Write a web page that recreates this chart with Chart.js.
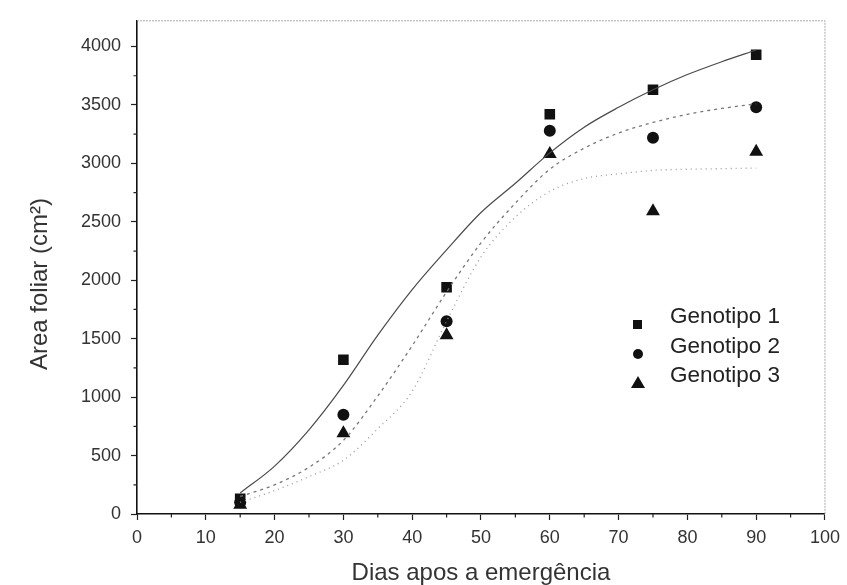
<!DOCTYPE html>
<html>
<head>
<meta charset="utf-8">
<script src="https://cdn.jsdelivr.net/npm/chart.js@4/dist/chart.umd.min.js"></script>
<style>
  body { margin: 0; background: #fff; }
  #wrap { position: relative; width: 847px; height: 585px; }
  #legend { position: absolute; left: 628px; top: 301px; font-family: "Liberation Sans", Arial, sans-serif; font-size: 22.5px; color: #222; }
  #legend div { height: 29.5px; line-height: 29.5px; white-space: nowrap; }
  #legend .mk { display: inline-block; width: 20px; height: 20px; vertical-align: middle; margin-right: 22px; }
</style>
</head>
<body>
<div id="wrap">
  <canvas id="chart" width="847" height="585"></canvas>
  <div id="legend"></div>
</div>
<script>
// measured points
const days = [15, 30, 45, 60, 75, 90];
const genotipo1 = [130, 1320, 1940, 3420, 3630, 3930];
const genotipo2 = [100, 850, 1650, 3280, 3220, 3480];
const genotipo3 = [80, 690, 1530, 3080, 2590, 3100];

// fitted curves
const fitDays = [15, 20, 25, 30, 35, 40, 45, 50, 55, 60, 65, 70, 75, 80, 85, 90];
const fit1 = [180, 410, 720, 1100, 1530, 1920, 2260, 2580, 2830, 3090, 3310, 3480, 3630, 3760, 3870, 3970];
const fit2 = [150, 250, 400, 630, 1010, 1440, 1900, 2320, 2660, 2950, 3130, 3260, 3350, 3420, 3470, 3510];
const fit3 = [100, 200, 320, 460, 730, 1050, 1650, 2200, 2540, 2760, 2870, 2910, 2940, 2950, 2955, 2960];

const names = ['Genotipo 1', 'Genotipo 2', 'Genotipo 3'];
const shapes = ['rect', 'circle', 'triangle'];
const radii = [7.5, 6, 8];

const xTicks = [0, 10, 20, 30, 40, 50, 60, 70, 80, 90, 100];
const yTicks = [0, 500, 1000, 1500, 2000, 2500, 3000, 3500, 4000];

const font = '"Liberation Sans", Arial, sans-serif';

function pts(xs, ys) {
  return xs.map((x, i) => ({ x: x, y: ys[i] }));
}

const measured = [genotipo1, genotipo2, genotipo3];
const fits = [fit1, fit2, fit3];
const lineStyles = [
  { color: '#4a4a4a', dash: [], width: 1.2 },
  { color: '#777', dash: [3, 4], width: 1.3 },
  { color: '#999', dash: [1, 4], width: 1.3 }
];

const datasets = [];
fits.forEach((f, i) => {
  datasets.push({
    label: names[i] + ' ajuste',
    data: pts(fitDays, f),
    showLine: true,
    borderColor: lineStyles[i].color,
    borderDash: lineStyles[i].dash,
    borderWidth: lineStyles[i].width,
    pointRadius: 0,
    cubicInterpolationMode: 'monotone',
    fill: false
  });
});
measured.forEach((m, i) => {
  datasets.push({
    label: names[i],
    data: pts(days, m),
    showLine: false,
    pointStyle: shapes[i],
    pointRadius: radii[i],
    backgroundColor: '#111',
    borderColor: '#111',
    borderWidth: 0
  });
});

// minor ticks + faint frame on top and right
const framePlugin = {
  id: 'frame',
  afterDraw(chart) {
    const ctx = chart.ctx;
    const a = chart.chartArea;
    const xs = chart.scales.x, ys = chart.scales.y;
    ctx.save();
    ctx.strokeStyle = '#aaa';
    ctx.lineWidth = 1;
    ctx.setLineDash([2, 1]);
    ctx.beginPath();
    ctx.moveTo(a.left, a.top);
    ctx.lineTo(a.right, a.top);
    ctx.lineTo(a.right, a.bottom);
    ctx.stroke();
    ctx.setLineDash([]);
    ctx.strokeStyle = '#222';
    ctx.lineWidth = 1.2;
    ctx.beginPath();
    for (let v = 250; v < 4000; v += 500) {
      const y = ys.getPixelForValue(v);
      ctx.moveTo(a.left, y);
      ctx.lineTo(a.left - 3.5, y);
    }
    for (let v = 5; v < 100; v += 10) {
      const x = xs.getPixelForValue(v);
      ctx.moveTo(x, a.bottom);
      ctx.lineTo(x, a.bottom + 3.5);
    }
    ctx.stroke();
    ctx.restore();
  }
};

new Chart(document.getElementById('chart'), {
  type: 'scatter',
  data: { datasets: datasets },
  options: {
    responsive: false,
    animation: false,
    layout: { padding: { top: 17, right: 18, left: 0, bottom: 0 } },
    plugins: { legend: { display: false }, tooltip: { enabled: false } },
    scales: {
      x: {
        type: 'linear',
        min: 0,
        max: 100,
        afterFit(s) { s.height = 71; },
        afterBuildTicks(s) { s.ticks = xTicks.map(v => ({ value: v })); },
        ticks: { color: '#333', padding: 7, font: { family: font, size: 18 }, callback: v => String(v) },
        grid: { drawOnChartArea: false, drawTicks: true, tickLength: 6, color: '#222', tickWidth: 1.2 },
        border: { color: '#111', width: 1.6 },
        title: {
          display: true,
          text: 'Dias apos a emergência',
          color: '#333',
          padding: { top: 0, bottom: 0 },
          font: { family: font, size: 24, lineHeight: 1 }
        }
      },
      y: {
        min: 0,
        max: 4220,
        afterFit(s) { s.width = 137; },
        afterBuildTicks(s) { s.ticks = yTicks.map(v => ({ value: v })); },
        ticks: { color: '#333', padding: 10, font: { family: font, size: 18 }, callback: v => String(v) },
        grid: { drawOnChartArea: false, drawTicks: true, tickLength: 6, color: '#222', tickWidth: 1.2 },
        border: { color: '#111', width: 1.6 },
        title: {
          display: true,
          text: 'Area foliar (cm²)\u00a0\u00a0\u00a0\u00a0\u00a0',
          color: '#333',
          padding: { top: 28, bottom: 0 },
          font: { family: font, size: 24, lineHeight: 1 }
        }
      }
    }
  },
  plugins: [framePlugin]
});

// legend inside plot area
const legendMarks = [
  '<span class="mk"><span style="display:inline-block;width:9px;height:9px;background:#111;margin:5px 0 0 5px"></span></span>',
  '<span class="mk"><span style="display:inline-block;width:10px;height:10px;border-radius:50%;background:#111;margin:5px 0 0 5px"></span></span>',
  '<span class="mk"><span style="display:inline-block;width:0;height:0;border-left:7px solid transparent;border-right:7px solid transparent;border-bottom:12px solid #111;margin:3px 0 0 3px"></span></span>'
];
document.getElementById('legend').innerHTML = names.map((n, i) => '<div>' + legendMarks[i] + n + '</div>').join('');
</script>
</body>
</html>
